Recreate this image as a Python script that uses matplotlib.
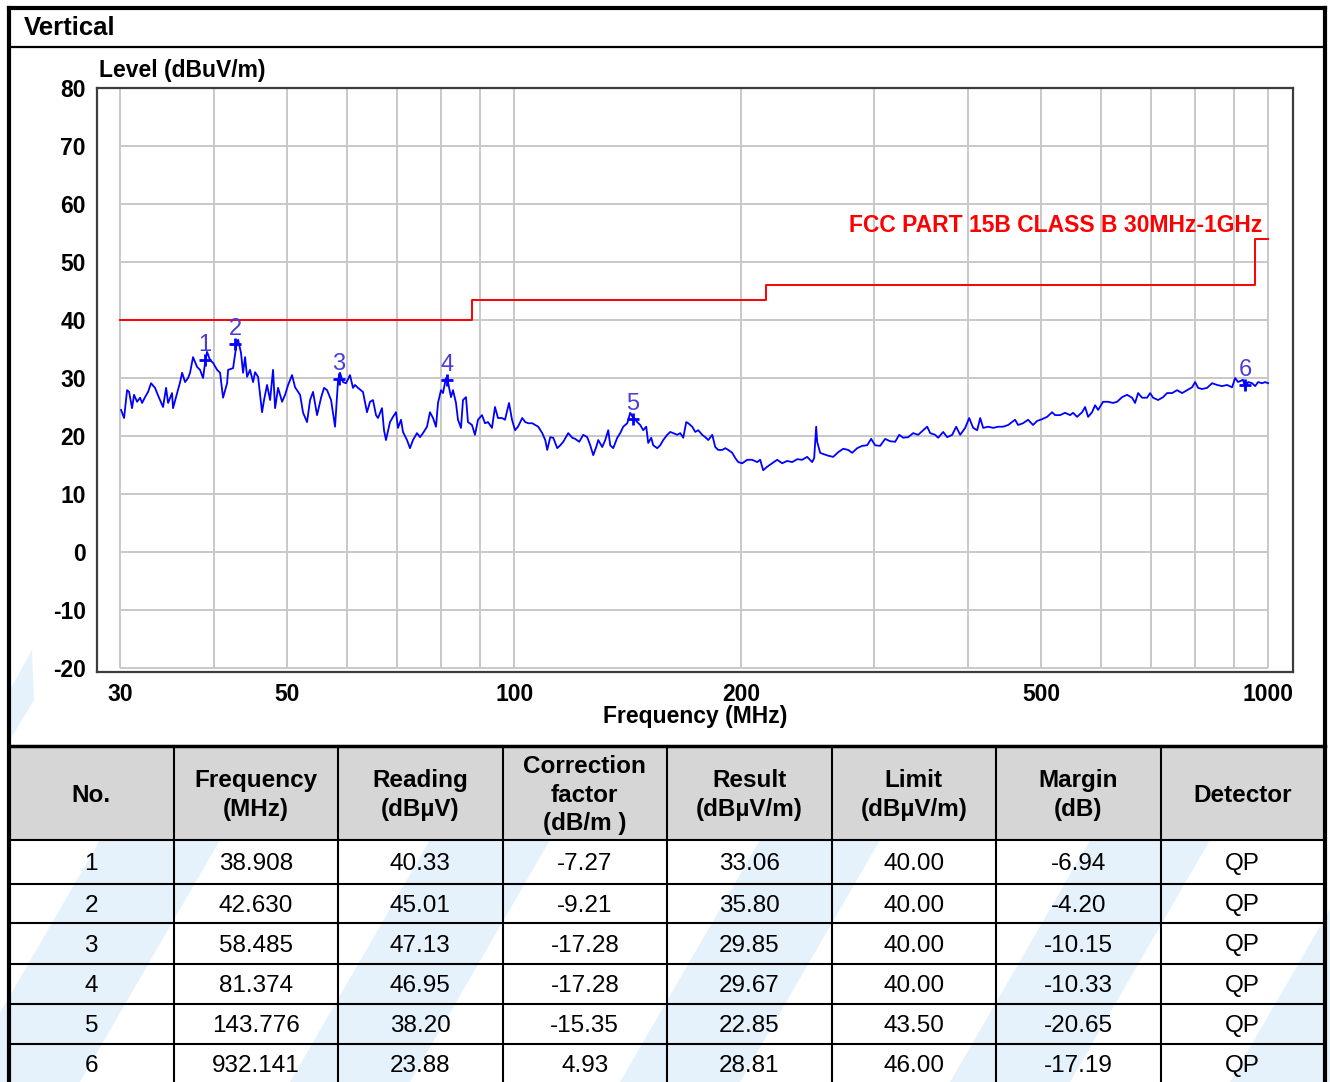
import matplotlib
matplotlib.use("Agg")
import matplotlib.pyplot as plt
from matplotlib.patches import Rectangle, Polygon

# ---- spectrum trace ----
freq = [30.09, 30.37, 30.65, 30.84, 31.12, 31.31, 31.60, 31.89, 32.09, 32.38, 32.68, 32.98, 33.38, 33.79,
        34.21, 34.53, 34.74, 35.16, 35.27, 35.71, 36.04, 36.26, 36.59, 36.93, 37.15, 37.49, 37.96, 38.30,
        38.66, 38.89, 39.13, 39.49, 39.86, 40.35, 40.72, 41.09, 41.60, 41.73, 42.37, 42.76, 43.02, 43.41,
        43.68, 43.95, 44.22, 44.62, 45.04, 45.31, 45.73, 46.29, 46.57, 47.00, 47.44, 47.87, 48.17, 48.61,
        49.21, 49.66, 50.12, 50.73, 51.20, 51.99, 52.47, 53.11, 53.60, 54.09, 54.76, 55.43, 55.94, 56.46,
        57.15, 57.85, 58.39, 58.73, 59.27, 59.82, 60.55, 61.11, 61.48, 62.05, 63.00, 63.78, 64.37, 64.96,
        65.56, 65.96, 66.77, 67.18, 67.59, 68.42, 69.05, 69.69, 70.11, 70.76, 71.19, 72.07, 72.73, 73.40,
        74.30, 74.99, 75.68, 76.61, 77.31, 78.03, 78.74, 79.23, 79.95, 80.44, 81.18, 81.68, 82.43, 82.94,
        83.70, 84.21, 84.99, 85.51, 86.30, 86.82, 87.89, 88.70, 89.52, 90.62, 91.46, 92.30, 93.43, 94.29,
        95.16, 96.33, 97.22, 98.42, 99.32, 100.24, 101.16, 102.47, 103.42, 104.37, 105.65, 106.63, 107.61,
        108.93, 109.93, 110.61, 111.63, 112.65, 114.04, 115.09, 116.15, 117.93, 119.38, 120.48, 121.96,
        123.46, 124.98, 126.13, 127.29, 128.46, 129.25, 130.84, 132.04, 133.26, 134.07, 135.31, 136.97,
        138.23, 139.50, 141.22, 142.51, 143.83, 144.71, 145.59, 146.93, 148.28, 149.65, 150.56, 151.95,
        152.88, 154.76, 156.18, 157.62, 159.56, 161.02, 162.50, 164.53, 166.04, 167.57, 169.11, 170.15,
        172.24, 173.82, 175.42, 177.58, 179.21, 180.86, 183.09, 184.77, 186.47, 188.77, 190.50, 192.25,
        194.62, 196.41, 198.21, 200.65, 203.74, 206.83, 210.01, 211.95, 213.91, 216.53, 219.86, 223.25,
        226.68, 230.17, 233.71, 237.31, 240.96, 244.67, 248.44, 249.96, 251.49, 252.26, 254.58, 256.92,
        260.89, 264.90, 268.98, 273.12, 277.32, 280.71, 285.03, 289.41, 293.86, 297.47, 301.12, 305.75,
        310.45, 315.23, 320.09, 324.07, 328.06, 333.11, 338.22, 343.43, 348.71, 352.99, 356.25, 361.72,
        365.06, 370.67, 375.23, 381.00, 385.69, 390.43, 396.43, 401.31, 406.24, 411.24, 415.03, 418.85,
        425.30, 431.84, 438.49, 445.23, 452.08, 457.5, 461.7, 466.0, 473.1, 480.4, 487.8, 493.8, 501.4,
        509.1, 517.0, 521.7, 529.7, 537.9, 546.2, 551.2, 558.0, 566.6, 571.8, 577.1, 584.1, 589.5, 595.0,
        604.1, 613.4, 622.8, 630.5, 640.2, 650.1, 660.1, 666.1, 672.3, 680.5, 691.0, 697.4, 703.8, 714.6,
        725.6, 734.5, 745.8, 757.3, 769.0, 780.8, 792.8, 800.1, 807.5, 817.4, 830.0, 842.8, 855.7, 868.9,
        882.3, 895.9, 904.1, 912.4, 926.5, 932.2, 940.7, 952.3, 961.1, 969.9, 981.8, 990.9, 1000.0]
level = [24.5, 23.1, 27.9, 27.6, 24.8, 27.1, 25.9, 26.6, 25.7, 26.7, 27.6, 29.1, 28.3, 26.6,
         25.0, 28.3, 25.7, 27.4, 24.8, 27.4, 29.3, 30.9, 29.3, 30.0, 30.9, 33.6, 31.9, 31.4,
         30.0, 32.6, 34.5, 33.1, 32.6, 31.4, 30.9, 26.6, 29.1, 31.4, 31.7, 35.3, 36.6, 34.3,
         30.9, 33.6, 30.2, 31.4, 29.3, 31.0, 30.2, 24.1, 26.2, 28.8, 26.2, 31.4, 24.8, 28.3,
         25.9, 27.1, 28.8, 30.5, 28.4, 27.1, 24.0, 22.4, 26.2, 27.6, 23.6, 26.6, 28.3, 27.9,
         26.2, 21.6, 29.7, 30.9, 29.3, 29.1, 30.5, 28.3, 28.8, 28.3, 27.6, 24.1, 25.9, 26.2,
         23.6, 23.1, 24.8, 21.0, 19.3, 22.4, 23.3, 24.1, 21.4, 22.8, 20.7, 19.3, 17.9, 19.3,
         20.5, 19.8, 20.5, 21.6, 24.1, 23.1, 21.6, 25.7, 27.9, 27.4, 30.0, 29.3, 26.7, 27.9,
         25.7, 22.8, 21.4, 26.2, 26.7, 22.4, 21.9, 20.2, 22.8, 23.6, 22.2, 22.4, 21.4, 25.0,
         23.1, 23.1, 22.8, 25.7, 22.8, 21.0, 21.6, 23.1, 22.4, 22.2, 22.2, 21.9, 21.6,
         20.5, 19.3, 17.6, 19.8, 19.7, 17.9, 18.4, 19.0, 20.5, 19.7, 19.5, 19.0,
         20.2, 19.8, 18.4, 16.7, 18.1, 19.3, 18.1, 19.3, 21.0, 18.4, 17.9, 19.7,
         20.5, 21.6, 22.2, 24.0, 23.1, 22.8, 22.4, 21.9, 21.0, 21.6, 18.8, 19.7,
         18.4, 17.9, 18.4, 19.3, 20.2, 20.7, 20.5, 20.2, 20.5, 19.7, 22.4, 22.2,
         21.6, 20.7, 21.0, 20.2, 19.8, 19.3, 20.2, 18.1, 17.6, 17.6, 17.9, 17.6,
         17.1, 16.2, 15.5, 15.3, 15.9, 15.9, 15.5, 15.9, 14.1, 14.7, 15.3, 15.9,
         15.3, 15.7, 15.5, 16.0, 15.9, 16.4, 15.5, 16.2, 21.6, 19.0, 17.1, 16.9,
         16.6, 16.4, 17.2, 17.8, 17.6, 17.1, 17.9, 18.3, 18.4, 19.5, 18.4, 18.3,
         19.5, 19.1, 19.0, 20.2, 19.7, 19.8, 20.5, 20.2, 21.0, 21.6, 20.5, 20.2,
         19.7, 20.7, 19.8, 20.2, 21.6, 20.2, 21.4, 23.1, 21.4, 21.0, 23.1, 21.4,
         21.6, 21.4, 21.6, 21.6, 21.9, 22.4, 22.8, 21.9, 22.2, 22.8, 21.9, 22.6, 22.9,
         23.3, 24.1, 23.6, 23.6, 24.0, 23.6, 24.0, 23.3, 24.1, 25.0, 23.3, 24.1, 25.3, 24.5,
         25.9, 25.9, 25.7, 25.9, 26.7, 27.1, 26.6, 25.7, 27.4, 26.6, 26.6, 27.4, 26.6, 26.2,
         26.7, 27.4, 27.4, 27.9, 27.4, 27.9, 28.4, 29.3, 28.3, 28.1, 28.3, 29.1, 28.8, 28.6,
         28.8, 28.4, 30.0, 29.3, 29.7, 28.3, 29.3, 29.1, 28.6, 29.3, 29.1, 29.3, 29.1]

# ---- FCC Part 15B class B limit ----
limit_freq = [30, 88, 88, 216, 216, 960, 960, 1000]
limit_level = [40, 40, 43.5, 43.5, 46, 46, 54, 54]
limit_name = "FCC PART 15B CLASS B 30MHz-1GHz"

# ---- table of peaks ----
mk_no = ["1", "2", "3", "4", "5", "6"]
mk_freq = ["38.908", "42.630", "58.485", "81.374", "143.776", "932.141"]
mk_reading = ["40.33", "45.01", "47.13", "46.95", "38.20", "23.88"]
mk_corr = ["-7.27", "-9.21", "-17.28", "-17.28", "-15.35", "4.93"]
mk_result = ["33.06", "35.80", "29.85", "29.67", "22.85", "28.81"]
mk_limit = ["40.00", "40.00", "40.00", "40.00", "43.50", "46.00"]
mk_margin = ["-6.94", "-4.20", "-10.15", "-10.33", "-20.65", "-17.19"]
mk_det = ["QP", "QP", "QP", "QP", "QP", "QP"]
headers = ["No.", "Frequency\n(MHz)", "Reading\n(dBµV)", "Correction\nfactor\n(dB/m )",
           "Result\n(dBµV/m)", "Limit\n(dBµV/m)", "Margin\n(dB)", "Detector"]

x_ticks = [30, 50, 100, 200, 500, 1000]
x_grid = [30, 40, 50, 60, 70, 80, 90, 100, 200, 300, 400, 500, 600, 700, 800, 900, 1000]
y_ticks = [-20, -10, 0, 10, 20, 30, 40, 50, 60, 70, 80]

plt.rcParams['font.family'] = ['Liberation Sans', 'DejaVu Sans']
plt.rcParams['axes.unicode_minus'] = False

W, H = 1330, 1082
fig = plt.figure(figsize=(W / 100, H / 100), dpi=100)

# background layer in pixel units for frame, header and table
bg = fig.add_axes([0, 0, 1, 1])
bg.set_xlim(0, W)
bg.set_ylim(H, 0)
bg.axis('off')

wm = '#e5f2fc'
# faint watermark swooshes
bg.add_patch(Polygon([[10, 740], [10, 690], [32, 650], [34, 700]], closed=True, color=wm, lw=0))
body_top, body_bot = 840, 1082
for x0 in [-40, 290, 620, 950, 1230]:
    bg.add_patch(Polygon([[x0, body_bot], [x0 + 120, body_bot], [x0 + 260, body_top], [x0 + 140, body_top]],
                         closed=True, color=wm, lw=0, zorder=0))

# outer frame and title bar
bg.plot([9, 1325], [8, 8], color='black', lw=3)
bg.plot([9, 9], [8, H], color='black', lw=3)
bg.plot([1325, 1325], [8, H], color='black', lw=3)
bg.plot([9, 1325], [47, 47], color='black', lw=1.6)
bg.text(24, 28, "Vertical", fontsize=18.5, fontweight='bold', va='center', ha='left')

# table
col_edges = [9 + i * (1325 - 9) / 8 for i in range(9)]
row_edges = [746, 840, 884, 923, 964, 1004, 1044, 1084]
bg.add_patch(Rectangle((9, 746), 1316, 94, color='#d6d6d6', lw=0, zorder=0.5))
for x in col_edges[1:-1]:
    bg.plot([x, x], [746, H], color='black', lw=1.5)
for y in row_edges[1:]:
    bg.plot([9, 1325], [y, y], color='black', lw=1.5)
bg.plot([9, 1325], [746, 746], color='black', lw=2.5)

for i, h in enumerate(headers):
    cx = (col_edges[i] + col_edges[i + 1]) / 2
    bg.text(cx, 795, h, fontsize=17.5, fontweight='bold', ha='center', va='center', linespacing=1.3)

columns = [mk_no, mk_freq, mk_reading, mk_corr, mk_result, mk_limit, mk_margin, mk_det]
for j, col in enumerate(columns):
    cx = (col_edges[j] + col_edges[j + 1]) / 2
    for r, val in enumerate(col):
        cy = (row_edges[r + 1] + row_edges[r + 2]) / 2 + 2
        bg.text(cx, cy, val, fontsize=17.5, ha='center', va='center')

# ---- the chart ----
ax = fig.add_axes([97 / W, 1 - 672 / H, (1293 - 97) / W, (672 - 88) / H])
ax.set_xscale('log')
ax.set_xlim(27.96, 1079)
ax.set_ylim(-20.69, 80)
ax.vlines(x_grid, -20, 80, color='#c8c8c8', lw=1.4, zorder=1)
ax.hlines(y_ticks, 30, 1000, color='#c8c8c8', lw=1.4, zorder=1)

ax.step(limit_freq, limit_level, where='post', color='#ff0000', lw=1.4, zorder=3)
ax.plot(freq, level, color='#0000ff', lw=1.3, zorder=4)

mkf = [float(v) for v in mk_freq]
mkl = [float(v) for v in mk_result]
ax.plot(mkf, mkl, ls='', marker='+', ms=8, mew=2, color='#0000ff', zorder=5)
for n, f, l in zip(mk_no, mkf, mkl):
    ax.annotate(n, (f, l), xytext=(0, 11), textcoords='offset points', ha='center', va='center',
                fontsize=17, color='#4a3cd8', zorder=6)

ax.set_xticks(x_ticks)
ax.set_xticklabels([str(t) for t in x_ticks])
ax.minorticks_off()
ax.set_yticks(y_ticks)
ax.tick_params(length=0, labelsize=16.5, pad=8)
for lab in ax.get_xticklabels() + ax.get_yticklabels():
    lab.set_fontweight('bold')
for s in ax.spines.values():
    s.set_color('#3c3c3c')
    s.set_linewidth(1.6)

ax.text(99, 70, "Level (dBuV/m)", fontsize=16.5, fontweight='bold', ha='left', va='center',
        transform=bg.transData)
ax.text(695, 717, "Frequency (MHz)", fontsize=16.5, fontweight='bold', ha='center', va='center',
        transform=bg.transData)
ax.text(1262, 225, limit_name, fontsize=16.5, fontweight='bold', color='#ff0000', ha='right', va='center',
        transform=bg.transData, zorder=7)

fig.savefig("out.png", dpi=100)
